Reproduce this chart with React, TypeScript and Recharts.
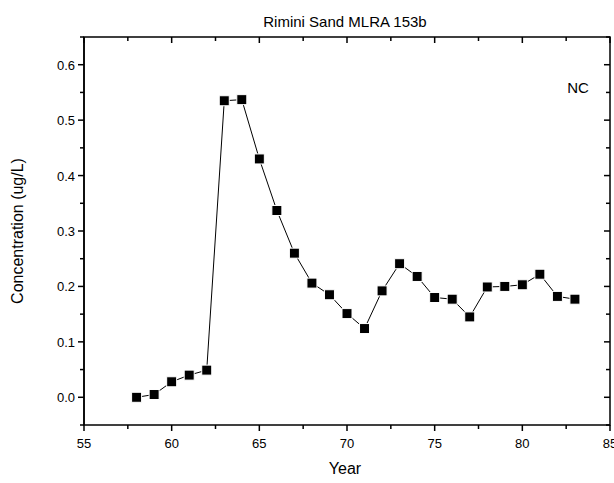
import { ComposedChart, Line, ReferenceArea, ReferenceLine, XAxis, YAxis } from "recharts";

const years = [58, 59, 60, 61, 62, 63, 64, 65, 66, 67, 68, 69, 70, 71, 72, 73, 74, 75, 76, 77, 78, 79, 80, 81, 82, 83];
const concentration = [
  0.0, 0.005, 0.028, 0.04, 0.049, 0.535, 0.537, 0.43, 0.337, 0.26, 0.206, 0.185, 0.151, 0.124, 0.192,
  0.241, 0.218, 0.18, 0.177, 0.145, 0.199, 0.2, 0.203, 0.222, 0.182, 0.177,
];
const xTicks = [55, 57.5, 60, 62.5, 65, 67.5, 70, 72.5, 75, 77.5, 80, 82.5, 85];
const yTicks = [-0.05, 0, 0.05, 0.1, 0.15, 0.2, 0.25, 0.3, 0.35, 0.4, 0.45, 0.5, 0.55, 0.6, 0.65];
const xMin = 55;
const xMax = 85;
const yMin = -0.05;
const yMax = 0.65;

const data = years.map((year, i) => ({ year, value: concentration[i] }));

const FONT = "'Liberation Sans', Arial, sans-serif";
const isMajorX = (v: number) => v % 5 === 0;
const isMajorY = (v: number) => Math.abs(Math.round(v * 10) - v * 10) < 1e-6 && v >= 0 && v <= 0.6;

const LeftTick = ({ x, y, payload }: any) => {
  const major = isMajorY(payload.value);
  return (
    <g>
      <line x1={x} x2={x - (major ? 6 : 4)} y1={y} y2={y} stroke="#000" strokeWidth={1.5} />
      {major && (
        <text x={x - 9} y={y + 5} textAnchor="end" fontSize={13} fontFamily={FONT} fill="#000">
          {payload.value.toFixed(1)}
        </text>
      )}
    </g>
  );
};

const BottomLabel = ({ x, y, payload }: any) =>
  isMajorX(payload.value) ? (
    <text x={x} y={y + 23} textAnchor="middle" fontSize={13} fontFamily={FONT} fill="#000">
      {payload.value}
    </text>
  ) : (
    <g />
  );

// frame of the plot box, with the x tick marks placed along its bottom (outward) and top (inward)
const FrameShape = (p: any) => {
  const x = Number(p.x);
  const y = Number(p.y);
  const w = Number(p.width);
  const h = Number(p.height);
  const bottom = y + h;
  return (
    <g>
      <rect x={x} y={y} width={w} height={h} fill="none" stroke="#000" strokeWidth={1.5} />
      {xTicks.map((v) => {
        const tx = x + ((v - xMin) / (xMax - xMin)) * w;
        const len = isMajorX(v) ? 6 : 4;
        return (
          <g key={v}>
            <path d={`M${tx},${bottom}L${tx},${bottom + len}`} stroke="#000" strokeWidth={1.5} fill="none" />
            <path d={`M${tx},${y}L${tx},${y + len}`} stroke="#000" strokeWidth={1.5} fill="none" />
          </g>
        );
      })}
    </g>
  );
};

const yTickShape = (v: number) => (p: any) => {
  const len = isMajorY(v) ? 6 : 4;
  const right = Math.max(p.x1, p.x2);
  return <line x1={right} x2={right - len} y1={p.y1} y2={p.y1} stroke="#000" strokeWidth={1.5} />;
};

const SquareDot = ({ cx, cy }: any) => (
  <rect x={cx - 5} y={cy - 5} width={10} height={10} fill="#000" stroke="#fff" strokeWidth={1} />
);

export default function App() {
  return (
    <div style={{ position: "absolute", left: 0, top: 0, width: 614, height: 483, background: "#fff" }}>
      <ComposedChart width={614} height={483} data={data} margin={{ top: 37, right: 4, left: 0, bottom: 0 }}>
        <XAxis
          dataKey="year"
          type="number"
          domain={[xMin, xMax]}
          ticks={xTicks}
          interval={0}
          height={58}
          tickSize={0}
          tickMargin={0}
          tickLine={false}
          axisLine={false}
          tick={<BottomLabel />}
        />
        <YAxis
          type="number"
          domain={[yMin, yMax]}
          ticks={yTicks}
          interval={0}
          width={84}
          tickSize={0}
          tickMargin={0}
          tickLine={false}
          axisLine={{ stroke: "#000", strokeWidth: 1.5 }}
          tick={<LeftTick />}
        />
        <ReferenceArea
          x1={xMin}
          x2={xMax}
          y1={yMin}
          y2={yMax}
          fill="none"
          fillOpacity={0}
          stroke="#000"
          strokeWidth={1.5}
          ifOverflow="visible"
          shape={FrameShape}
        />
        {yTicks.map((v) => (
          <ReferenceLine key={`y${v}`} y={v} ifOverflow="visible" shape={yTickShape(v)} />
        ))}
        <Line
          dataKey="value"
          stroke="#000"
          strokeWidth={1}
          dot={<SquareDot />}
          activeDot={false}
          isAnimationActive={false}
        />
        <text x={345} y={27} textAnchor="middle" fontSize={15} fontFamily={FONT} fill="#000">
          Rimini Sand MLRA 153b
        </text>
        <text x={578} y={93} textAnchor="middle" fontSize={15} fontFamily={FONT} fill="#000">
          NC
        </text>
        <text x={345} y={474} textAnchor="middle" fontSize={16} fontFamily={FONT} fill="#000">
          Year
        </text>
        <text
          x={23}
          y={231}
          textAnchor="middle"
          fontSize={16}
          fontFamily={FONT}
          fill="#000"
          transform="rotate(-90 23 231)"
        >
          Concentration (ug/L)
        </text>
      </ComposedChart>
    </div>
  );
}
